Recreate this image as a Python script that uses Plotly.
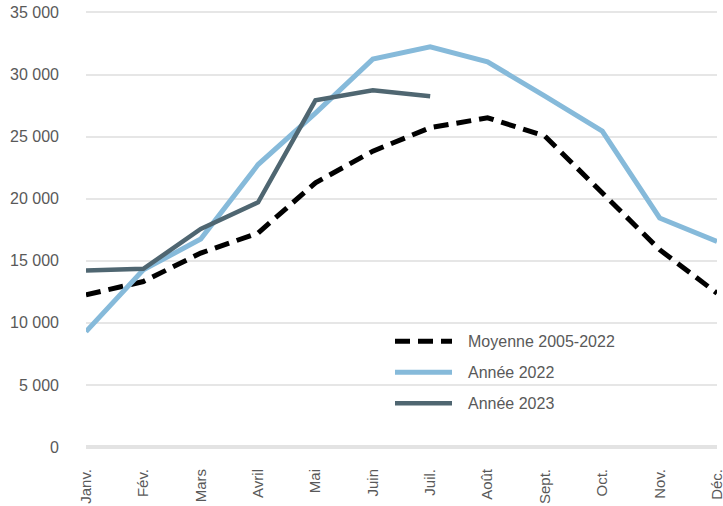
import plotly.graph_objects as go

months = ["Janv.", "Fév.", "Mars", "Avril", "Mai", "Juin", "Juil.", "Août", "Sept.", "Oct.", "Nov.", "Déc."]
moyenne = [12250, 13330, 15620, 17240, 21280, 23830, 25720, 26520, 25040, 20470, 15890, 12390]
annee_2022 = [9290, 14270, 16750, 22750, 26900, 31240, 32230, 31020, 28270, 25440, 18450, 16560]
annee_2023 = [14220, 14350, 17560, 19710, 27920, 28730, 28250]
y_ticks = [0, 5000, 10000, 15000, 20000, 25000, 30000, 35000]
y_labels = ["0", "5 000", "10 000", "15 000", "20 000", "25 000", "30 000", "35 000"]

series_names = ["Moyenne 2005-2022", "Année 2022", "Année 2023"]
col_moy = "#000000"
col_22 = "#86BADA"
col_23 = "#4F6671"
dash_pat = "15px,8px"

fig = go.Figure()
fig.add_trace(go.Scatter(x=months, y=moyenne, mode="lines", name=series_names[0],
                         line=dict(color=col_moy, width=5, dash=dash_pat)))
fig.add_trace(go.Scatter(x=months, y=annee_2022, mode="lines", name=series_names[1],
                         line=dict(color=col_22, width=5)))
fig.add_trace(go.Scatter(x=months[:len(annee_2023)], y=annee_2023, mode="lines", name=series_names[2],
                         line=dict(color=col_23, width=4.5)))

font_fam = "Liberation Sans, Arial, sans-serif"
txt_col = "#595959"

W, H = 723, 506
Y_TOP = 35120
scale = (446.7 - 12.5) / 35000.0
L, R = 86, 6
B = H - 446.7
T = 12.5 - (Y_TOP - 35000) * scale
pw, ph = W - L - R, H - T - B
def px_x(p):
    return (p - L) / pw
def px_y(p):
    return (H - B - p) / ph

shapes = []
annotations = []
leg_cols = [col_moy, col_22, col_23]
leg_dash = [dash_pat, "solid", "solid"]
leg_w = [5, 5, 4.5]
leg_rows = [341, 372, 403]
for i, nm in enumerate(series_names):
    yy = px_y(leg_rows[i])
    shapes.append(dict(type="line", xref="paper", yref="paper", x0=px_x(395), x1=px_x(452),
                       y0=yy, y1=yy, line=dict(color=leg_cols[i], width=leg_w[i], dash=leg_dash[i])))
    annotations.append(dict(xref="paper", yref="paper", x=px_x(466), y=yy, text=nm, showarrow=False,
                            xanchor="left", yanchor="middle",
                            font=dict(family=font_fam, size=16, color=txt_col)))

fig.update_layout(
    width=W, height=H,
    margin=dict(l=L, r=R, t=T, b=B, pad=0),
    plot_bgcolor="white", paper_bgcolor="white",
    showlegend=False,
    shapes=shapes, annotations=annotations,
    font=dict(family=font_fam, size=16, color=txt_col),
)
fig.update_xaxes(type="category", range=[0, 11], showgrid=False, zeroline=False, showline=False,
                 tickangle=-90, ticks="", ticklabelstandoff=18, automargin=False,
                 tickfont=dict(family=font_fam, size=15, color=txt_col))
fig.update_yaxes(range=[0, Y_TOP], tickvals=y_ticks, ticktext=y_labels, showgrid=True,
                 gridcolor="#E6E6E6", gridwidth=2, zeroline=True, zerolinecolor="#E3E3E3", zerolinewidth=4,
                 showline=False, ticks="", ticklabelstandoff=26, automargin=False,
                 tickfont=dict(family=font_fam, size=16, color=txt_col))

fig.write_html("out.html", config={"displayModeBar": False},
               post_script="document.body.style.margin='0px';")
